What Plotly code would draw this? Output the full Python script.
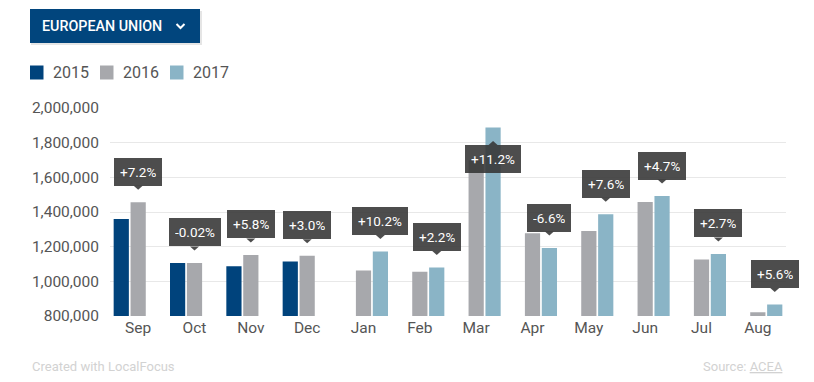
import plotly.graph_objects as go

months = ["Sep", "Oct", "Nov", "Dec", "Jan", "Feb", "Mar", "Apr", "May", "Jun", "Jul", "Aug"]
v2015 = [1360000, 1106000, 1087000, 1115000, None, None, None, None, None, None, None, None]
v2016 = [1456000, 1106000, 1152000, 1147000, 1063000, 1055000, 1698000, 1277000, 1290000, 1458000, 1126000, 821000]
v2017 = [None, None, None, None, 1172000, 1080000, 1888000, 1192000, 1387000, 1492000, 1158000, 866000]
changes = ["+7.2%", "-0.02%", "+5.8%", "+3.0%", "+10.2%", "+2.2%", "+11.2%", "-6.6%", "+7.6%", "+4.7%", "+2.7%", "+5.6%"]
years = ["2015", "2016", "2017"]
colors = ["#00437c", "#a7a8ac", "#8ab4c6"]
y_ticks = [800000, 1000000, 1200000, 1400000, 1600000, 1800000, 2000000]
y_range = [800000, 2000000]

W, H = 814, 382
ML, MR, MT, MB = 110, 28, 108, 66
PW, PH = W - ML - MR, H - MT - MB

def px(x):
    return (x - ML) / PW

def py(y):
    return (H - MB - y) / PH

BARGAP = 0.1
slot = (1 - BARGAP) / 3

fig = go.Figure()
for name, vals, col in zip(years, [v2015, v2016, v2017], colors):
    fig.add_bar(x=list(range(len(months))), y=vals, name=name, marker_color=col,
                marker_line_width=0, showlegend=False, hoverinfo="skip")

shapes = []
annotations = []

BUBBLE = "rgba(52,52,52,0.88)"
unit_px = PH / (y_range[1] - y_range[0])
for i, lab in enumerate(changes):
    if v2017[i] is not None:
        val, off = v2017[i], slot
    else:
        val, off = v2016[i], 0.0
    xc = i + off
    above_room = (y_range[1] - val) * unit_px
    common = dict(x=xc, y=val, xref="x", yref="y", text=lab, showarrow=False,
                  font=dict(family="Roboto", size=13.5, color="white"),
                  bgcolor=BUBBLE, borderpad=6, borderwidth=0, height=16)
    if above_room > 16.5 + 30:
        annotations.append(dict(common, yanchor="bottom", yshift=16.5))
        path = "M -4.5 16.5 L 4.5 16.5 L 0 12.5 Z"
    else:
        annotations.append(dict(common, yanchor="top", yshift=-17.5))
        path = "M -4.5 -17.5 L 4.5 -17.5 L 0 -13.5 Z"
    shapes.append(dict(type="path", xref="x", yref="y", xsizemode="pixel", ysizemode="pixel",
                       xanchor=xc, yanchor=val, path=path,
                       fillcolor=BUBBLE, line_width=0, layer="above"))

# header button
shapes.append(dict(type="rect", xref="paper", yref="paper", x0=px(31), x1=px(202), y0=py(45), y1=py(11),
                   fillcolor="rgba(0,0,0,0.10)", line_width=0, layer="below"))
shapes.append(dict(type="rect", xref="paper", yref="paper", x0=px(30), x1=px(200), y0=py(43), y1=py(9),
                   fillcolor="#01457d", line_width=0, layer="above"))
shapes.append(dict(type="path", xref="paper", yref="paper",
                   path=f"M {px(176.5)} {py(24)} L {px(180.5)} {py(28)} L {px(184.5)} {py(24)}",
                   line=dict(color="white", width=2), layer="above"))
annotations.append(dict(x=px(40), y=py(26), xref="paper", yref="paper", text="EUROPEAN UNION",
                        showarrow=False, xanchor="left", yanchor="middle",
                        font=dict(family="Roboto", size=14.3, color="white", weight=500)))

# legend
for k, (name, col) in enumerate(zip(years, colors)):
    x0 = 30 + 70 * k
    shapes.append(dict(type="rect", xref="paper", yref="paper", x0=px(x0), x1=px(x0 + 13.5),
                       y0=py(79.5), y1=py(65.5), fillcolor=col, line_width=0))
    annotations.append(dict(x=px(x0 + 21), y=py(72.5), xref="paper", yref="paper", text=name,
                            showarrow=False, xanchor="left", yanchor="middle",
                            font=dict(family="Roboto", size=16, color="#555555")))

# footer
annotations.append(dict(x=px(30), y=py(366), xref="paper", yref="paper", text="Created with LocalFocus",
                        showarrow=False, xanchor="left", yanchor="middle",
                        font=dict(family="Roboto", size=13, color="#d2d2d2")))
annotations.append(dict(x=px(785), y=py(366), xref="paper", yref="paper", text="Source: <u>ACEA</u>",
                        showarrow=False, xanchor="right", yanchor="middle",
                        font=dict(family="Roboto", size=13, color="#d2d2d2")))

fig.update_layout(
    width=W, height=H, margin=dict(l=ML, r=MR, t=MT, b=MB, pad=0),
    paper_bgcolor="white", plot_bgcolor="white",
    barmode="group", bargap=BARGAP, bargroupgap=0.1,
    showlegend=False, hovermode=False,
    shapes=shapes, annotations=annotations,
    xaxis=dict(tickmode="array", tickvals=list(range(len(months))), ticktext=months,
               range=[-0.5, len(months) - 0.5], showgrid=False, zeroline=False, showline=False,
               ticks="", tickfont=dict(family="Roboto", size=15.5, color="#555555")),
    yaxis=dict(range=y_range, tickvals=y_ticks, tickformat=",d", showgrid=True,
               gridcolor="#e8e8e8", gridwidth=1.3, zeroline=False, showline=False, ticks="",
               ticklabelstandoff=10,
               tickfont=dict(family="Roboto", size=15.5, color="#555555")),
    font=dict(family="Roboto"),
)

fig.write_html("out.html", config={"displayModeBar": False},
               post_script="document.body.style.margin='0';document.body.style.overflow='hidden';")
